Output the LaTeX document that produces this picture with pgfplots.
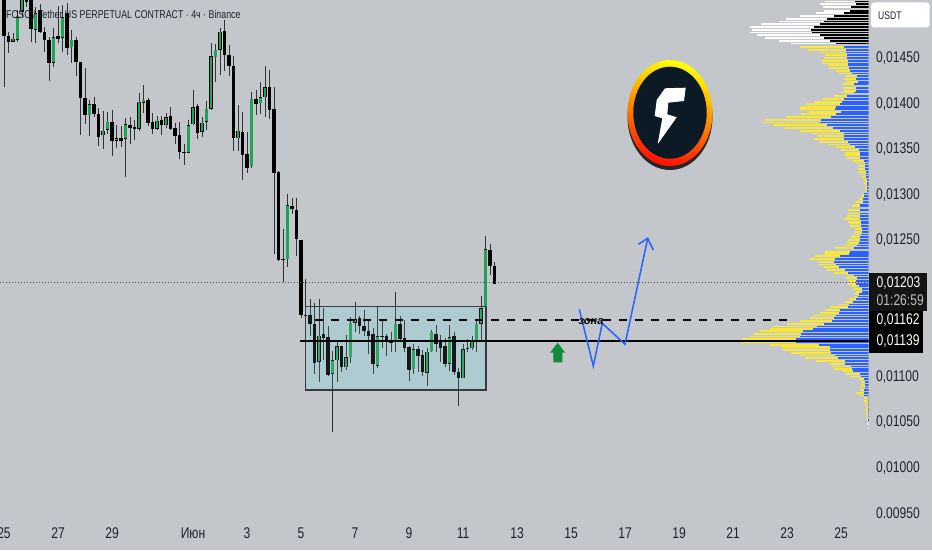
\documentclass[border=0pt]{standalone}
\usepackage{pgfplots}
\pgfplotsset{compat=1.18}
\usepackage{fontspec}
\setmainfont[FakeStretch=0.78]{Liberation Sans}
\newfontfamily\zonefont{Liberation Sans}
\definecolor{bg}{HTML}{C3C6CB}
\definecolor{cgreen}{HTML}{1FA354}
\definecolor{vblue}{HTML}{2962FF}
\definecolor{vyel}{HTML}{F8E83C}
\definecolor{tick}{HTML}{1E222D}
\definecolor{boxc}{HTML}{AECBD2}
\definecolor{logod}{HTML}{0C1A26}
\definecolor{arrowg}{HTML}{138A36}
\newcommand\G[5]{%
 \addplot[line width=0.9pt,color=black!80,forget plot] coordinates {(#1,0.0#4)(#1,0.0#5)};%
 \addplot[line width=3.8pt,color=black,forget plot] coordinates {(#1,0.0#2)(#1,0.0#3)};%
 \addplot[line width=2.5pt,color=cgreen,forget plot,shorten <=0.5pt,shorten >=0.5pt] coordinates {(#1,0.0#2)(#1,0.0#3)};}
\newcommand\B[5]{%
 \addplot[line width=0.9pt,color=black!80,forget plot] coordinates {(#1,0.0#4)(#1,0.0#5)};%
 \addplot[line width=3.8pt,color=black,forget plot] coordinates {(#1,0.0#2)(#1,0.0#3)};}
\newcommand\VU[3]{%
 \addplot[line width=1.8pt,color=vyel,forget plot] coordinates {(0,0.0#1)(#2,0.0#1)};%
 \addplot[line width=1.8pt,color=vblue,forget plot] coordinates {(0,0.0#1)(#3,0.0#1)};}
\newcommand\VW[3]{%
 \addplot[line width=1.8pt,color=white,forget plot] coordinates {(0,0.0#1)(#2,0.0#1)};%
 \addplot[line width=1.8pt,color=black,forget plot] coordinates {(0,0.0#1)(#3,0.0#1)};}
\begin{document}
\begin{tikzpicture}[x=1pt,y=1pt]
\useasboundingbox (0,0) rectangle (932,550);
\fill[bg] (0,0) rectangle (932,550);
% volume profile
\begin{axis}[at={(0pt,30pt)},anchor=south west,scale only axis,width=868.5pt,height=520pt,
  xmin=0,xmax=2605.5,x dir=reverse,ymin=0.009423,ymax=0.015137,hide axis,clip=true]
\VW{1512}{130}{40}\VW{1509}{145}{37}\VW{1506}{137}{53}\VW{1502}{135}{55}\VW{1499}{157}{75}\VW{1496}{207}{103}\VW{1493}{247}{125}\VW{1490}{268}{133}\VW{1487}{322}{145}\VW{1484}{355}{165}\VW{1481}{350}{173}\VW{1478}{355}{170}\VW{1475}{335}{147}\VW{1472}{310}{135}\VW{1469}{268}{117}\VW{1466}{233}{97}
\VU{1462}{205}{75}\VU{1459}{182}{67}\VU{1456}{147}{67}\VU{1453}{130}{65}\VU{1450}{135}{65}\VU{1447}{140}{63}\VU{1444}{140}{63}\VU{1442}{122}{62}\VU{1439}{118}{59}\VU{1436}{99}{55}\VU{1433}{88}{50}\VU{1430}{67}{35}\VU{1427}{73}{37}\VU{1424}{68}{33}\VU{1421}{80}{43}\VU{1417}{73}{37}\VU{1414}{73}{37}\VU{1412}{83}{43}\VU{1408}{103}{65}\VU{1405}{137}{73}\VU{1402}{165}{80}\VU{1399}{187}{87}\VU{1396}{205}{97}\VU{1394}{205}{100}\VU{1391}{180}{83}\VU{1388}{203}{97}\VU{1385}{248}{112}\VU{1382}{310}{143}\VU{1379}{317}{147}\VU{1376}{287}{125}\VU{1373}{250}{107}\VU{1370}{207}{87}\VU{1367}{172}{75}\VU{1364}{153}{75}\VU{1361}{163}{75}\VU{1358}{147}{63}\VU{1355}{122}{55}\VU{1352}{97}{40}\VU{1349}{82}{30}\VU{1346}{70}{27}\VU{1343}{70}{27}\VU{1340}{65}{25}\VU{1337}{47}{15}\VU{1334}{37}{10}\VU{1331}{30}{10}\VU{1328}{33}{10}\VU{1325}{30}{8}\VU{1322}{25}{7}\VU{1319}{20}{7}\VU{1316}{15}{5}\VU{1313}{13}{5}\VU{1310}{12}{5}\VU{1307}{10}{4}\VU{1304}{10}{4}\VU{1301}{17}{15}\VU{1298}{23}{15}\VU{1295}{30}{17}\VU{1292}{37}{18}\VU{1289}{43}{25}\VU{1287}{50}{27}\VU{1283}{63}{27}\VU{1279}{63}{27}\VU{1276}{65}{27}\VU{1273}{75}{27}
\VU{1270}{63}{23}\VU{1268}{57}{23}\VU{1265}{55}{23}\VU{1262}{40}{20}\VU{1259}{43}{19}\VU{1256}{47}{23}\VU{1253}{53}{25}\VU{1250}{63}{27}\VU{1247}{65}{30}\VU{1244}{75}{35}\VU{1241}{100}{43}\VU{1237}{132}{55}\VU{1235}{130}{60}\VU{1232}{162}{85}\VU{1229}{177}{100}\VU{1226}{153}{105}\VU{1223}{150}{97}\VU{1220}{133}{90}\VU{1217}{125}{70}\VU{1214}{105}{63}\VU{1211}{67}{43}\VU{1208}{67}{35}\VU{1205}{60}{37}\VU{1202}{63}{37}\VU{1199}{50}{30}\VU{1196}{43}{20}\VU{1193}{37}{20}\VU{1191}{40}{30}\VU{1188}{45}{33}\VU{1185}{60}{37}\VU{1182}{70}{47}\VU{1179}{88}{60}\VU{1176}{115}{63}\VU{1173}{132}{87}\VU{1170}{145}{90}\VU{1167}{167}{97}\VU{1164}{177}{105}\VU{1161}{205}{110}\VU{1158}{245}{135}\VU{1155}{293}{155}\VU{1152}{295}{167}\VU{1150}{325}{197}\VU{1147}{347}{203}\VU{1144}{357}{207}\VU{1141}{380}{218}\VU{1138}{385}{218}\VU{1135}{297}{150}\VU{1132}{260}{115}\VU{1129}{257}{117}\VU{1126}{233}{113}\VU{1123}{207}{100}\VU{1120}{190}{93}\VU{1117}{157}{70}\VU{1114}{120}{70}\VU{1111}{110}{53}\VU{1108}{105}{50}\VU{1106}{77}{47}\VU{1103}{67}{25}\VU{1100}{53}{23}\VU{1097}{30}{15}\VU{1094}{23}{10}\VU{1091}{22}{10}\VU{1088}{25}{10}\VU{1085}{25}{13}\VU{1082}{37}{15}\VU{1079}{30}{15}\VU{1076}{15}{3}\VU{1073}{15}{3}\VU{1070}{10}{3}\VU{1067}{10}{3}\VU{1064}{7}{3}\VU{1062}{7}{2}\VU{1059}{7}{2}\VU{1056}{7}{2}\VW{1052}{5}{2}\VW{1048}{4}{0}\VW{1043}{3}{0}
\end{axis}
% candles
\begin{axis}[at={(0pt,30pt)},anchor=south west,scale only axis,width=868.5pt,height=520pt,
  xmin=-0.889,xmax=192.1,ymin=0.009423,ymax=0.015137,clip=true,
  axis y line*=right,axis x line*=bottom,
  x axis line style={draw=none},y axis line style={draw=none},
  tick style={draw=none},major tick length=0pt,
  xtick={0,12,24,42,54,66,78,90,102,114,126,138,150,162,174,186},
  xticklabels={25,27,29,Июн,3,5,7,9,11,13,15,17,19,21,23,25},
  ytick={0.0095,0.0100,0.0105,0.0110,0.0125,0.0130,0.0135,0.0140,0.0145},
  yticklabels={{0.00950},{0,01000},{0,01050},{0,01100},{0,01250},{0,01300},{0,01350},{0,01400},{0,01450}},
  ticklabel style={font=\fontsize{15.5}{15.5}\selectfont,text=tick},
  xticklabel style={anchor=center,yshift=-13pt},
  yticklabel style={anchor=west,xshift=4pt,yshift=-0.5pt},
  title={FOSC / Tether US PERPETUAL CONTRACT · 4ч · Binance},
  title style={at={(axis description cs:0.0069,0.9605)},anchor=west,font=\fontsize{11.3}{12}\selectfont,text=tick,inner sep=0pt},
]
% accumulation box, fill under the candles
\addplot[fill=boxc,draw=none,forget plot]
 coordinates {(67,0.011767)(107.1,0.011767)(107.1,0.010851)(67,0.010851)} -- cycle;
\B{0}{1525}{1474}{1528}{1418}\B{1}{1474}{1467}{1479}{1455}\G{2}{1468}{1471}{1477}{1467}\G{3}{1470}{1495}{1503}{1468}\G{4}{1501}{1517}{1521}{1495}\B{5}{1515}{1512}{1521}{1506}\B{6}{1517}{1482}{1521}{1467}\G{7}{1481}{1499}{1506}{1466}\B{8}{1503}{1479}{1509}{1477}\B{9}{1478}{1470}{1484}{1457}
\B{10}{1470}{1445}{1473}{1425}\G{11}{1445}{1473}{1483}{1440}\B{12}{1474}{1471}{1507}{1466}\G{13}{1472}{1495}{1508}{1457}\B{14}{1499}{1461}{1510}{1453}\G{15}{1462}{1470}{1481}{1445}\B{16}{1470}{1446}{1473}{1430}\B{17}{1446}{1406}{1446}{1365}\B{18}{1406}{1387}{1439}{1377}\G{19}{1387}{1399}{1404}{1364}
\B{20}{1399}{1388}{1407}{1385}\B{21}{1388}{1363}{1395}{1353}\G{22}{1365}{1370}{1392}{1350}\G{23}{1371}{1380}{1391}{1367}\B{24}{1380}{1359}{1393}{1342}\G{25}{1359}{1362}{1376}{1351}\B{26}{1362}{1359}{1375}{1352}\G{27}{1361}{1377}{1384}{1319}\B{28}{1376}{1373}{1385}{1356}\B{29}{1374}{1372}{1382}{1360}
\G{30}{1372}{1402}{1411}{1370}\G{31}{1401}{1404}{1420}{1390}\B{32}{1404}{1379}{1406}{1375}\B{33}{1380}{1372}{1389}{1366}\G{34}{1372}{1381}{1386}{1371}\B{35}{1382}{1376}{1386}{1365}\G{36}{1376}{1385}{1389}{1373}\B{37}{1386}{1372}{1396}{1371}\B{38}{1373}{1364}{1379}{1356}\B{39}{1365}{1347}{1380}{1339}
\B{40}{1347}{1346}{1356}{1332}\G{41}{1346}{1376}{1382}{1346}\G{42}{1377}{1396}{1415}{1376}\B{43}{1397}{1368}{1399}{1361}\G{44}{1369}{1379}{1385}{1363}\G{45}{1380}{1394}{1403}{1371}\G{46}{1394}{1452}{1466}{1393}\G{47}{1451}{1459}{1465}{1424}\G{48}{1459}{1479}{1483}{1431}\B{49}{1480}{1453}{1492}{1436}
\B{50}{1453}{1441}{1464}{1430}\B{51}{1441}{1362}{1452}{1348}\G{52}{1362}{1370}{1398}{1348}\B{53}{1369}{1343}{1391}{1316}\B{54}{1344}{1329}{1369}{1324}\G{55}{1331}{1405}{1413}{1329}\B{56}{1405}{1399}{1415}{1387}\G{57}{1400}{1407}{1424}{1388}\G{58}{1407}{1418}{1441}{1385}\B{59}{1418}{1393}{1437}{1383}
\B{60}{1394}{1324}{1418}{1235}\B{61}{1325}{1228}{1326}{1227}\B{62}{1229}{1228}{1262}{1204}\G{63}{1229}{1288}{1301}{1220}\B{64}{1287}{1284}{1296}{1278}\B{65}{1283}{1251}{1296}{1232}\B{66}{1250}{1168}{1250}{1164}\B{67}{1168}{1167}{1207}{1167}\B{68}{1168}{1158}{1185}{1144}\B{69}{1158}{1115}{1181}{1103}
\G{70}{1116}{1145}{1185}{1094}\B{71}{1147}{1142}{1175}{1118}\B{72}{1143}{1102}{1155}{1100}\G{73}{1103}{1118}{1128}{1039}\G{74}{1118}{1133}{1138}{1094}\B{75}{1133}{1110}{1134}{1105}\G{76}{1110}{1121}{1146}{1107}\G{77}{1121}{1159}{1165}{1115}\G{78}{1159}{1163}{1182}{1149}\B{79}{1164}{1156}{1166}{1147}
\B{80}{1155}{1150}{1173}{1144}\B{81}{1150}{1145}{1162}{1125}\B{82}{1147}{1114}{1153}{1103}\G{83}{1112}{1144}{1178}{1109}\B{84}{1144}{1143}{1161}{1131}\B{85}{1145}{1138}{1147}{1122}\B{86}{1138}{1137}{1149}{1127}\G{87}{1139}{1158}{1193}{1127}\B{88}{1158}{1141}{1166}{1140}\B{89}{1142}{1131}{1162}{1127}
\B{90}{1132}{1107}{1134}{1095}\G{91}{1108}{1130}{1136}{1103}\B{92}{1130}{1123}{1133}{1105}\B{93}{1124}{1105}{1129}{1101}\G{94}{1104}{1127}{1131}{1090}\G{95}{1128}{1149}{1151}{1127}\B{96}{1147}{1136}{1157}{1127}\B{97}{1138}{1131}{1146}{1116}\B{98}{1133}{1114}{1142}{1110}\G{99}{1114}{1143}{1157}{1106}
\B{100}{1145}{1105}{1149}{1102}\B{101}{1105}{1098}{1109}{1068}\G{102}{1098}{1130}{1136}{1098}\B{103}{1131}{1130}{1141}{1127}\G{104}{1131}{1138}{1144}{1129}\G{105}{1138}{1158}{1163}{1127}\G{106}{1158}{1175}{1188}{1138}\G{107}{1177}{1240}{1254}{1176}\B{108}{1239}{1221}{1246}{1211}\B{109}{1221}{1202}{1226}{1202}
% box tint and edge over the candles
\addplot[fill=boxc,fill opacity=0.12,draw=black!70!bg,line width=1.1pt,forget plot]
 coordinates {(67,0.011767)(107.1,0.011767)(107.1,0.010851)(67,0.010851)} -- cycle;
% levels
\addplot[line width=0.7pt,color=black!70,dash pattern=on 1pt off 2pt,forget plot] coordinates {(-0.889,0.01203)(192.1,0.01203)};
\addplot[line width=1.4pt,color=black,dash pattern=on 8pt off 8pt,forget plot] coordinates {(69,0.01162)(175.5,0.01162)};
\addplot[line width=1.5pt,color=black,forget plot] coordinates {(65.8,0.01139)(192.1,0.01139)};
\end{axis}
% annotations in picture pixels
\begin{scope}[shift={(0,550)},x=1pt,y=-1pt]
% tags
\fill[white,rounded corners=3pt] (871,2.5) rectangle (929.5,27.5);
\node[anchor=west,inner sep=0pt,text=tick,font=\fontsize{11}{11}\selectfont] at (878,16) {USDT};
\fill[black!90!bg] (869,273) rectangle (927,311);
\fill[black] (869,311) rectangle (923,330);
\fill[black] (869,330) rectangle (923,353);
\node[anchor=west,inner sep=0pt,text=white,font=\fontsize{15.5}{15.5}\selectfont] at (876.5,283) {0,01203};
\node[anchor=west,inner sep=0pt,text=black!25,font=\fontsize{15.5}{15.5}\selectfont] at (876.5,300) {01:26:59};
\node[anchor=west,inner sep=0pt,text=white,font=\fontsize{15.5}{15.5}\selectfont] at (876.5,320) {0,01162};
\node[anchor=west,inner sep=0pt,text=white,font=\fontsize{15.5}{15.5}\selectfont] at (876.5,341) {0,01139};
% arrow + path
\fill[arrowg] (557.7,342.7) -- (565.2,352.7) -- (562.3,352.7) -- (562.3,362.3) -- (553.3,362.3) -- (553.3,352.7) -- (550,352.7) -- cycle;
\draw[vblue,line width=1.5pt,line join=miter] (579.3,309.3) -- (593.3,366) -- (602.3,323.3) -- (625,344.3) -- (647.7,238.3);
\draw[vblue,line width=1.5pt] (638.3,244.3) -- (647.7,238.3) -- (653.3,250);
\node[inner sep=0pt,font=\zonefont\bfseries\itshape\fontsize{11}{11}\selectfont] at (591,322) {зона};
% logo
\fill[black!85] (670,117) ellipse [x radius=42.5,y radius=53];
\shade[top color=yellow,middle color=orange!90!red,bottom color=red!85!orange,shading angle=-15] (670,113) ellipse [x radius=42.5,y radius=53];
\fill[logod] (670,112.7) ellipse [x radius=36.7,y radius=46];
\fill[white] (665,88.3) -- (685.7,87.7) -- (684,101) -- (668.3,102.7) -- (667.3,114.3) -- (676.7,117.3) -- (657.7,144) -- (662.3,118.3) -- (654.7,116) -- (656.7,100) -- cycle;
\end{scope}
\end{tikzpicture}
\end{document}
